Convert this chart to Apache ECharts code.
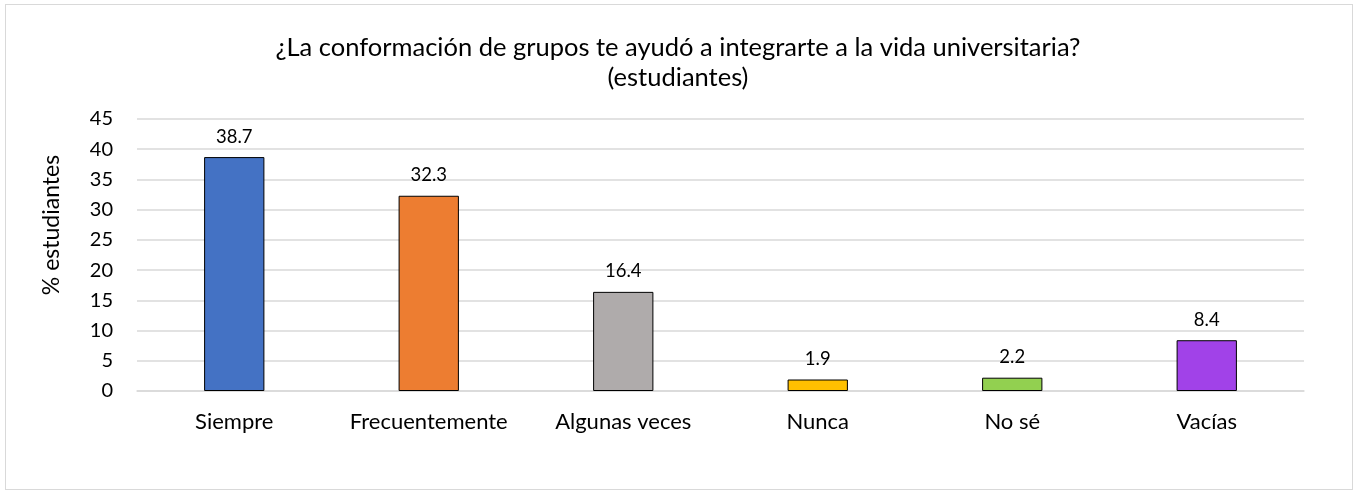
<!DOCTYPE html>
<html>
<head>
<meta charset="utf-8">
<script src="https://cdn.jsdelivr.net/npm/echarts@6/dist/echarts.min.js"></script>
<style>
  html, body { margin: 0; padding: 0; background: #fff; }
  #frame { position: absolute; left: 5px; top: 4px; width: 1346px; height: 484px; border: 1px solid #d9d9d9; }
  #chart { width: 1356px; height: 493px; }
</style>
</head>
<body>
<div id="frame"></div>
<div id="chart"></div>
<script>
// categorias y valores
var categories = ['Siempre', 'Frecuentemente', 'Algunas veces', 'Nunca', 'No sé', 'Vacías'];
var values = [38.7, 32.3, 16.4, 1.9, 2.2, 8.4];
var barColors = ['#4472c4', '#ed7d31', '#afabab', '#ffc000', '#92d050', '#a142e8'];

var font = 'Lato, "Noto Sans", sans-serif';

var myChart = echarts.init(document.getElementById('chart'));

var option = {
  backgroundColor: 'transparent',
  textStyle: { fontFamily: font, color: '#000' },
  title: {
    text: '¿La conformación de grupos te ayudó a integrarte a la vida universitaria?\n(estudiantes)',
    left: 'center',
    top: 28,
    textStyle: { fontFamily: font, fontSize: 25.5, fontWeight: 'normal', color: '#000', lineHeight: 30 }
  },
  grid: { left: 137, right: 52, top: 119, bottom: 102 },
  xAxis: {
    type: 'category',
    data: categories,
    axisLine: { lineStyle: { color: '#d9d9d9', width: 1.5 } },
    axisTick: { show: false },
    axisLabel: { fontFamily: font, fontSize: 22, color: '#000', margin: 20, interval: 0 }
  },
  yAxis: {
    type: 'value',
    min: 0,
    max: 45,
    interval: 5,
    name: '% estudiantes',
    nameLocation: 'middle',
    nameRotate: 90,
    nameGap: 74,
    nameTextStyle: { fontFamily: font, fontSize: 23, color: '#000', padding: [0, 0, 0, 60] },
    axisLine: { show: false },
    axisTick: { show: false },
    splitLine: { lineStyle: { color: '#d9d9d9', width: 1.5 } },
    axisLabel: { fontFamily: font, fontSize: 20, color: '#000', margin: 24 }
  },
  series: [{
    type: 'bar',
    data: values.map(function (v, i) {
      return { value: v, itemStyle: { color: barColors[i] } };
    }),
    barWidth: '31%',
    itemStyle: { borderColor: '#000', borderWidth: 1 },
    label: {
      show: true,
      position: 'top',
      distance: 11,
      fontFamily: font,
      fontSize: 18.5,
      color: '#000',
      formatter: function (p) { return p.value.toFixed(1); }
    }
  }]
};

myChart.setOption(option);
</script>
</body>
</html>
